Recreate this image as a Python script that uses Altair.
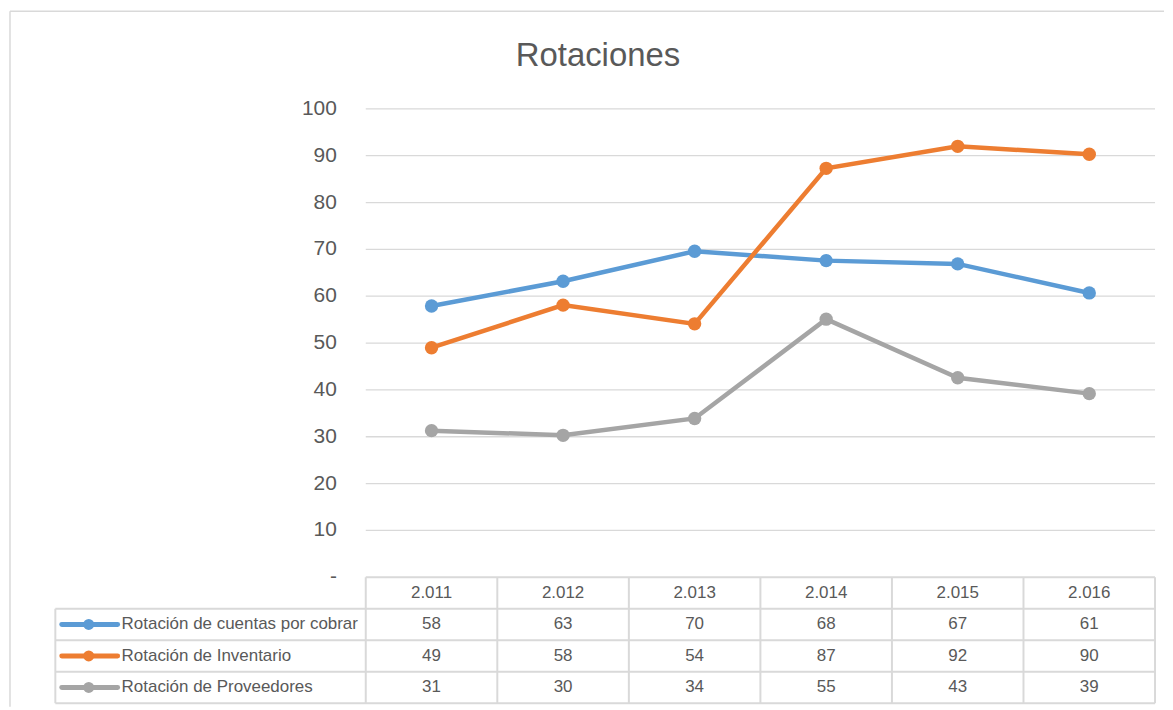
import altair as alt
import pandas as pd

# ---------------- data ----------------
years = ["2.011", "2.012", "2.013", "2.014", "2.015", "2.016"]
series = ["Rotación de cuentas por cobrar", "Rotación de Inventario", "Rotación de Proveedores"]
cuentas = [57.9, 63.2, 69.6, 67.6, 66.9, 60.7]
inventario = [49.0, 58.1, 54.1, 87.3, 92.0, 90.3]
proveedores = [31.3, 30.3, 33.9, 55.1, 42.6, 39.2]
colors = ["#5B9BD5", "#ED7D31", "#A5A5A5"]
y_ticks = [0, 10, 20, 30, 40, 50, 60, 70, 80, 90, 100]
y_tick_labels = ["-", "10", "20", "30", "40", "50", "60", "70", "80", "90", "100"]
title_text = "Rotaciones"

# ---------------- layout constants ----------------
FONT = "Liberation Sans"
TXT = "#595959"
GRID = "#D9D9D9"
W, H = 1160, 700
COL = 132.0          # px per category column
X0 = 359.0           # px of left edge of first column
PXU = 4.7            # px per value unit
Y100, Y0 = 100.0, 570.0
ROW = 31.6           # table row height px

xs = alt.Scale(domain=[-X0 / COL, (W - X0) / COL], nice=False, zero=False)
ys = alt.Scale(domain=[-(H - Y0) / PXU, 100 + Y100 / PXU], nice=False, zero=False)
ts = alt.Scale(domain=[-(H - Y0) / ROW, Y0 / ROW], nice=False, zero=False)

n = len(years)
tab_left = (47.5 - X0) / COL
lab_x = (330.0 - X0) / COL
rowlab_x = (114.0 - X0) / COL
key_x1 = (54.0 - X0) / COL
key_x2 = (110.0 - X0) / COL
key_dot = (81.0 - X0) / COL

values = [cuentas, inventario, proveedores]
rows = []
for si, s in enumerate(series):
    for i, y in enumerate(years):
        rows.append({"serie": s, "year": y, "xpos": i + 0.5, "value": values[si][i],
                     "t": -(si + 1.5)})
long_df = pd.DataFrame(rows)

grid_df = pd.DataFrame({"v": y_ticks[1:], "x0": 0.0, "x1": float(n)})
ylab_df = pd.DataFrame({"v": y_ticks, "lab": y_tick_labels, "lx": lab_x})
title_df = pd.DataFrame({"t": [title_text]})

X = lambda f: alt.X(f, scale=xs, axis=None)
Y = lambda f: alt.Y(f, scale=ys, axis=None)
T = lambda f: alt.Y(f, scale=ts, axis=None)
color = alt.Color("serie:N", scale=alt.Scale(domain=series, range=colors), legend=None)

grid = alt.Chart(grid_df).mark_rule(color=GRID, strokeWidth=1.3).encode(
    x=X("x0:Q"), x2="x1:Q", y=Y("v:Q"))
ylabels = alt.Chart(ylab_df).mark_text(align="right", baseline="middle", fontSize=21,
                                       font=FONT, color=TXT).encode(
    x=X("lx:Q"), y=Y("v:Q"), text="lab:N")
lines = alt.Chart(long_df).mark_line(strokeWidth=4.5).encode(
    x=X("xpos:Q"), y=Y("value:Q"), color=color, order="xpos:Q")
points = alt.Chart(long_df).mark_circle(size=180, opacity=1).encode(
    x=X("xpos:Q"), y=Y("value:Q"), color=color)
title = alt.Chart(title_df).mark_text(fontSize=33, font=FONT, color=TXT,
                                      baseline="middle", align="center").encode(
    x=alt.value(592), y=alt.value(47), text="t:N")

top = alt.layer(grid, ylabels, lines, points, title)

# ---------------- table ----------------
hl_df = pd.DataFrame({"t": [0.0, -1.0, -2.0, -3.0, -4.0],
                      "xa": [0.0, tab_left, tab_left, tab_left, tab_left],
                      "xb": [float(n)] * 5})
vl_df = pd.DataFrame({"x": [tab_left] + [float(i) for i in range(n + 1)],
                      "t1": [-1.0] + [0.0] * (n + 1),
                      "t2": [-4.0] * (n + 2)})
head_df = pd.DataFrame({"year": years, "xpos": [i + 0.5 for i in range(n)], "t": -0.5})
key_df = pd.DataFrame({"serie": series, "t": [-(i + 1.5) for i in range(3)],
                       "k1": key_x1, "k2": key_x2, "kd": key_dot, "lx": rowlab_x})

hl = alt.Chart(hl_df).mark_rule(color=GRID, strokeWidth=2).encode(
    x=X("xa:Q"), x2="xb:Q", y=T("t:Q"))
vl = alt.Chart(vl_df).mark_rule(color=GRID, strokeWidth=2).encode(
    x=X("x:Q"), y=T("t1:Q"), y2="t2:Q")
head = alt.Chart(head_df).mark_text(fontSize=17, font=FONT, color=TXT, baseline="middle").encode(
    x=X("xpos:Q"), y=T("t:Q"), text="year:N")
cells = alt.Chart(long_df).mark_text(fontSize=17, font=FONT, color=TXT, baseline="middle").encode(
    x=X("xpos:Q"), y=T("t:Q"), text=alt.Text("value:Q", format=".0f"))
keyline = alt.Chart(key_df).mark_rule(strokeWidth=5, strokeCap="round").encode(
    x=X("k1:Q"), x2="k2:Q", y=T("t:Q"), color=color)
keydot = alt.Chart(key_df).mark_circle(size=120, opacity=1).encode(
    x=X("kd:Q"), y=T("t:Q"), color=color)
rowlab = alt.Chart(key_df).mark_text(fontSize=17, font=FONT, color=TXT, align="left",
                                     baseline="middle").encode(
    x=X("lx:Q"), y=T("t:Q"), text="serie:N")

border_df = pd.DataFrame({"d": [0]})
border_top = alt.Chart(border_df).mark_rule(color=GRID, strokeWidth=1.5).encode(
    x=alt.value(2), x2=alt.value(W), y=alt.value(2))
border_left = alt.Chart(border_df).mark_rule(color=GRID, strokeWidth=1.5).encode(
    x=alt.value(2), y=alt.value(2), y2=alt.value(H))

table = alt.layer(hl, vl, head, cells, keyline, keydot, rowlab, border_top, border_left)

chart = alt.layer(top, table).resolve_scale(y="independent").properties(
    width=W, height=H, padding=0
).configure_view(stroke=None)

chart.save("out.html", embed_options={"renderer": "svg", "actions": False})
